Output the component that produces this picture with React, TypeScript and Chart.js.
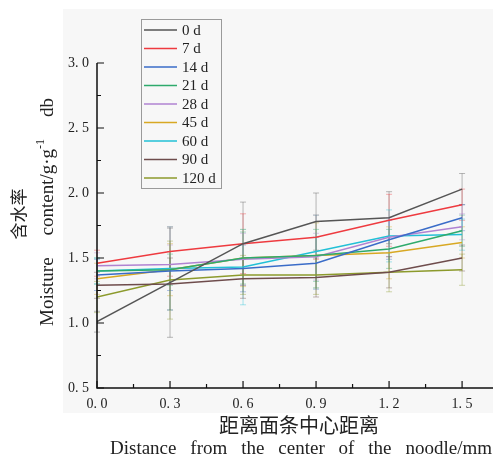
import React, { useEffect, useRef } from 'react';
import { Chart, registerables } from 'chart.js';

Chart.register(...registerables);

const W = 493;
const H = 462;

// Distance from the noodle centre (mm)
const distances = [0, 0.3, 0.6, 0.9, 1.2, 1.5];
const xTicks = [0, 0.3, 0.6, 0.9, 1.2, 1.5];
const yTicks = [0.5, 1.0, 1.5, 2.0, 2.5, 3.0];

// Storage time series
const storageLabels = ['0 d', '7 d', '14 d', '21 d', '28 d', '45 d', '60 d', '90 d', '120 d'];
const storageColors = ['#555555', '#ee3a3f', '#3a6cc8', '#2eaa6c', '#b083d2', '#d8a823', '#22c0d6', '#6e4c4c', '#8c9a2c'];

// Moisture content (g/g, dry basis)
const m0 = [1.01, 1.31, 1.61, 1.78, 1.81, 2.03];
const m7 = [1.46, 1.55, 1.61, 1.66, 1.79, 1.91];
const m14 = [1.37, 1.40, 1.42, 1.46, 1.64, 1.81];
const m21 = [1.40, 1.41, 1.50, 1.52, 1.57, 1.71];
const m28 = [1.44, 1.45, 1.49, 1.51, 1.66, 1.74];
const m45 = [1.34, 1.41, 1.50, 1.52, 1.54, 1.62];
const m60 = [1.40, 1.42, 1.43, 1.55, 1.67, 1.68];
const m90 = [1.29, 1.30, 1.34, 1.35, 1.39, 1.50];
const m120 = [1.20, 1.33, 1.37, 1.37, 1.39, 1.41];

// Standard deviations
const e0 = [0.08, 0.42, 0.32, 0.22, 0.20, 0.12];
const e7 = [0.10, 0.19, 0.23, 0.17, 0.20, 0.12];
const e14 = [0.12, 0.15, 0.18, 0.20, 0.15, 0.10];
const e21 = [0.10, 0.12, 0.20, 0.20, 0.15, 0.12];
const e28 = [0.10, 0.15, 0.20, 0.18, 0.15, 0.10];
const e45 = [0.12, 0.20, 0.22, 0.25, 0.20, 0.12];
const e60 = [0.10, 0.32, 0.29, 0.28, 0.20, 0.12];
const e90 = [0.10, 0.20, 0.15, 0.15, 0.12, 0.10];
const e120 = [0.12, 0.30, 0.15, 0.15, 0.15, 0.12];

const seriesValues = [m0, m7, m14, m21, m28, m45, m60, m90, m120];
const seriesErrors = [e0, e7, e14, e21, e28, e45, e60, e90, e120];

const SERIF = "'Liberation Serif', 'Times New Roman', serif";
const CJK = "'Noto Sans CJK SC', sans-serif";

const fmt = (v: number) => v.toFixed(1).replace('.', '. ');

type Run = { text: string; size: number; dy?: number; font?: string };

// Draws words spread evenly over a given length, starting at (0,0) of the current transform.
function drawSpread(ctx: CanvasRenderingContext2D, words: Run[][], length: number) {
  const widths = words.map((w) =>
    w.reduce((acc, r) => {
      ctx.font = `${r.size}px ${r.font || SERIF}`;
      return acc + ctx.measureText(r.text).width;
    }, 0)
  );
  const total = widths.reduce((a, b) => a + b, 0);
  const gap = words.length > 1 ? (length - total) / (words.length - 1) : 0;
  let x = 0;
  words.forEach((w, i) => {
    let cx = x;
    w.forEach((r) => {
      ctx.font = `${r.size}px ${r.font || SERIF}`;
      ctx.fillText(r.text, cx, r.dy || 0);
      cx += ctx.measureText(r.text).width;
    });
    x += widths[i] + gap;
  });
}

function hexA(hex: string, a: number) {
  const n = parseInt(hex.slice(1), 16);
  return `rgba(${(n >> 16) & 255},${(n >> 8) & 255},${n & 255},${a})`;
}

const decorPlugin = {
  id: 'decor',
  beforeDraw(chart: any) {
    const ctx = chart.ctx;
    ctx.save();
    ctx.fillStyle = '#ffffff';
    ctx.fillRect(0, 0, W, H);
    ctx.fillStyle = '#f7f7f7';
    ctx.fillRect(63, 9, W - 63, 404);
    ctx.restore();
  },
  beforeDatasetsDraw(chart: any) {
    const ctx = chart.ctx;
    const xs = chart.scales.x;
    const ys = chart.scales.y;
    ctx.save();
    ctx.lineWidth = 1;
    seriesValues.forEach((vals, si) => {
      ctx.strokeStyle = hexA(storageColors[si], 0.4);
      vals.forEach((v, i) => {
        const px = xs.getPixelForValue(distances[i]);
        const e = seriesErrors[si][i];
        const top = ys.getPixelForValue(v + e);
        const bot = ys.getPixelForValue(v - e);
        ctx.beginPath();
        ctx.moveTo(px, top);
        ctx.lineTo(px, bot);
        ctx.moveTo(px - 3, top);
        ctx.lineTo(px + 3, top);
        ctx.moveTo(px - 3, bot);
        ctx.lineTo(px + 3, bot);
        ctx.stroke();
      });
    });
    ctx.restore();
  },
  afterDraw(chart: any) {
    const ctx = chart.ctx;
    const area = chart.chartArea;
    const xs = chart.scales.x;
    const ys = chart.scales.y;
    ctx.save();

    // axes with inward ticks
    ctx.strokeStyle = '#111';
    ctx.lineWidth = 1.5;
    ctx.beginPath();
    ctx.moveTo(area.left, area.top);
    ctx.lineTo(area.left, area.bottom);
    ctx.lineTo(area.right, area.bottom);
    ctx.stroke();
    ctx.lineWidth = 1.2;
    ctx.beginPath();
    for (let k = 0; k * 0.15 <= xs.max + 1e-9; k++) {
      const px = xs.getPixelForValue(k * 0.15);
      const len = k % 2 === 0 ? 7 : 4;
      ctx.moveTo(px, area.bottom);
      ctx.lineTo(px, area.bottom - len);
    }
    for (let k = 0; 0.5 + k * 0.25 <= ys.max + 1e-9; k++) {
      const py = ys.getPixelForValue(0.5 + k * 0.25);
      const len = k % 2 === 0 ? 7 : 4;
      ctx.moveTo(area.left, py);
      ctx.lineTo(area.left + len, py);
    }
    ctx.stroke();

    // legend
    const lx = 141.5;
    const ly = 19.5;
    ctx.strokeStyle = '#9a9a9a';
    ctx.lineWidth = 1;
    ctx.strokeRect(lx, ly, 80, 169);
    ctx.textBaseline = 'middle';
    ctx.textAlign = 'left';
    storageLabels.forEach((lab, i) => {
      const y = 30 + i * 18.5;
      ctx.strokeStyle = storageColors[i];
      ctx.lineWidth = 1.5;
      ctx.beginPath();
      ctx.moveTo(144, y);
      ctx.lineTo(177, y);
      ctx.stroke();
      ctx.fillStyle = '#222';
      ctx.font = `15px ${SERIF}`;
      ctx.fillText(lab, 182, y + 1);
    });

    // axis titles
    ctx.fillStyle = '#222';
    ctx.textAlign = 'center';
    ctx.font = `20px ${CJK}`;
    ctx.fillText('距离面条中心距离', 299, 425);

    ctx.textAlign = 'left';
    ctx.save();
    ctx.translate(110, 449);
    drawSpread(
      ctx,
      'Distance from the center of the noodle/mm'.split(' ').map((t) => [{ text: t, size: 19 }]),
      382
    );
    ctx.restore();

    ctx.save();
    ctx.translate(19, 214);
    ctx.rotate(-Math.PI / 2);
    ctx.textAlign = 'center';
    ctx.font = `17px ${CJK}`;
    ctx.fillText('含水率', 0, 0);
    ctx.restore();

    ctx.save();
    ctx.translate(48, 326);
    ctx.rotate(-Math.PI / 2);
    ctx.textAlign = 'left';
    drawSpread(
      ctx,
      [
        [{ text: 'Moisture', size: 19 }],
        [
          { text: 'content/g·g', size: 19 },
          { text: '-1', size: 12, dy: -7 },
        ],
        [{ text: 'db', size: 19 }],
      ],
      228
    );
    ctx.restore();

    ctx.restore();
  },
};

export default function App() {
  const ref = useRef<HTMLCanvasElement | null>(null);

  useEffect(() => {
    if (!ref.current) return;
    const chart = new Chart(ref.current, {
      type: 'line',
      data: {
        datasets: seriesValues.map((vals, si) => ({
          label: storageLabels[si],
          data: distances.map((x, i) => ({ x, y: vals[i] })),
          borderColor: storageColors[si],
          backgroundColor: storageColors[si],
          borderWidth: 1.5,
          pointRadius: 0,
          tension: 0,
          fill: false,
        })),
      },
      options: {
        responsive: false,
        animation: false,
        devicePixelRatio: 1,
        layout: { padding: { top: 63, right: 0, bottom: 0, left: 0 } },
        plugins: {
          legend: { display: false },
          tooltip: { enabled: false },
        },
        scales: {
          x: {
            type: 'linear',
            min: 0,
            max: 1.627,
            grid: { display: false, drawTicks: false },
            border: { display: false },
            afterFit: (s: any) => {
              s.height = 74;
            },
            afterBuildTicks: (s: any) => {
              s.ticks = xTicks.map((v) => ({ value: v }));
            },
            ticks: {
              padding: 8,
              color: '#222',
              font: { family: SERIF, size: 14 },
              callback: (v: any) => fmt(Number(v)),
            },
          },
          y: {
            type: 'linear',
            min: 0.5,
            max: 3.0,
            grid: { display: false, drawTicks: false },
            border: { display: false },
            afterFit: (s: any) => {
              s.width = 97;
            },
            afterBuildTicks: (s: any) => {
              s.ticks = yTicks.map((v) => ({ value: v }));
            },
            ticks: {
              padding: 8,
              color: '#222',
              font: { family: SERIF, size: 14 },
              callback: (v: any) => fmt(Number(v)),
            },
          },
        },
      } as any,
      plugins: [decorPlugin],
    });
    return () => chart.destroy();
  }, []);

  return (
    <div style={{ position: 'fixed', left: 0, top: 0, width: W, height: H, background: '#fff' }}>
      <canvas ref={ref} width={W} height={H} style={{ display: 'block', width: W, height: H }} />
    </div>
  );
}
